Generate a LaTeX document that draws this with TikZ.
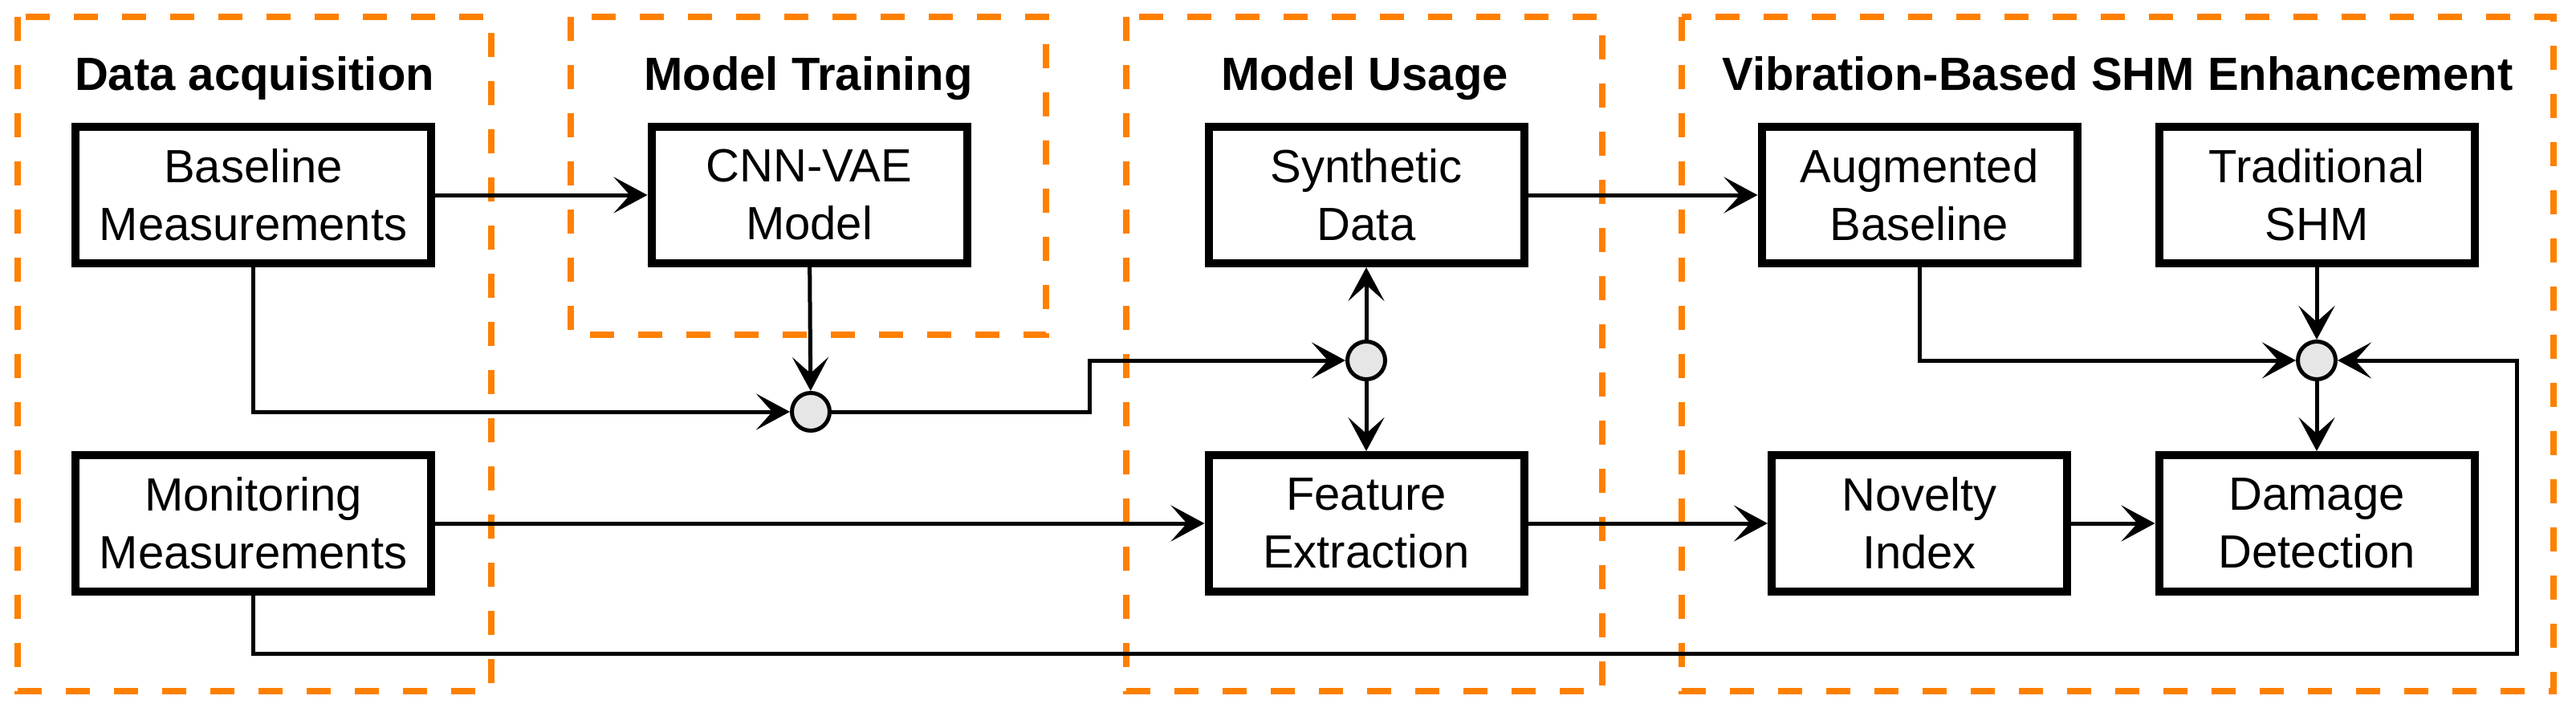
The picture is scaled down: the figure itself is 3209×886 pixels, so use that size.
\documentclass[tikz,border=0pt]{standalone}
\usepackage{fontspec}
\setmainfont{Liberation Sans}
\usetikzlibrary{arrows.meta}
\definecolor{grporange}{HTML}{FF8000}
\definecolor{circfill}{HTML}{E6E6E6}
\begin{document}
\begin{tikzpicture}[x=1pt,y=-1pt,
  box/.style={draw=black, line width=10pt, fill=white, inner sep=0pt, align=center,
    minimum height=170pt, font=\fontsize{58}{72}\selectfont},
  wbox/.style={box, minimum width=443pt},
  mbox/.style={box, minimum width=393pt},
  nbox/.style={box, minimum width=368pt},
  junc/.style={circle, draw=black, line width=5pt, fill=circfill, minimum size=47pt, inner sep=0pt},
  grp/.style={draw=grporange, line width=8pt, dash pattern=on 30pt off 30pt},
  grptitle/.style={anchor=base, inner sep=0pt, font=\fontsize{58}{70}\selectfont\bfseries},
  arr/.style={draw=black, line width=5pt, -{Stealth[length=42pt, width=45pt, inset=20pt]}},
  ln/.style={draw=black, line width=5pt}
]
\useasboundingbox (0,0) rectangle (3209,886);

% groups
\draw[grp] (22,21) rectangle (612,861);
\draw[grp] (711,21) rectangle (1303,417);
\draw[grp] (1403,21) rectangle (1996,861);
\draw[grp] (2095,21) rectangle (3181,861);

\node[grptitle] (t1) at (317,112) {Data acquisition};
\node[grptitle] (t2) at (1007,112) {Model Training};
\node[grptitle] (t3) at (1700,112) {Model Usage};
\node[grptitle] (t4) at (2638,112) {Vibration-Based SHM Enhancement};

% boxes
\node[wbox] (BM) at (315.5,243) {Baseline\\Measurements};
\node[wbox] (MM) at (315.5,652) {Monitoring\\Measurements};
\node[mbox] (CNN) at (1008,243) {CNN-VAE\\Model};
\node[mbox] (SD) at (1702,243) {Synthetic\\Data};
\node[mbox] (FE) at (1702,652) {Feature\\Extraction};
\node[mbox] (AB) at (2391,243) {Augmented\\Baseline};
\node[mbox] (TS) at (2886,243) {Traditional\\SHM};
\node[nbox] (NI) at (2391,652) {Novelty\\Index};
\node[mbox] (DD) at (2886,652) {Damage\\Detection};

% junctions
\node[junc] (c1) at (1010,513) {};
\node[junc] (c2) at (1702,449) {};
\node[junc] (c3) at (2886,449) {};

\coordinate (j1) at (1357,513);
\coordinate (r1) at (3135,814);

% connectors
\draw[arr] (BM) -- (CNN);
\draw[arr] (BM.south) |- (c1);
\draw[arr] (CNN) -- (c1);
\draw[arr] (c1) -- (j1) |- (c2);
\draw[arr] (c2) -- (SD);
\draw[arr] (c2) -- (FE);
\draw[arr] (MM) -- (FE);
\draw[arr] (FE) -- (NI);
\draw[arr] (NI) -- (DD);
\draw[arr] (SD) -- (AB);
\draw[arr] (AB.south) |- (c3);
\draw[arr] (TS) -- (c3);
\draw[arr] (c3) -- (DD);
\draw[arr] (MM.south) |- (r1) |- (c3);
\end{tikzpicture}
\end{document}
